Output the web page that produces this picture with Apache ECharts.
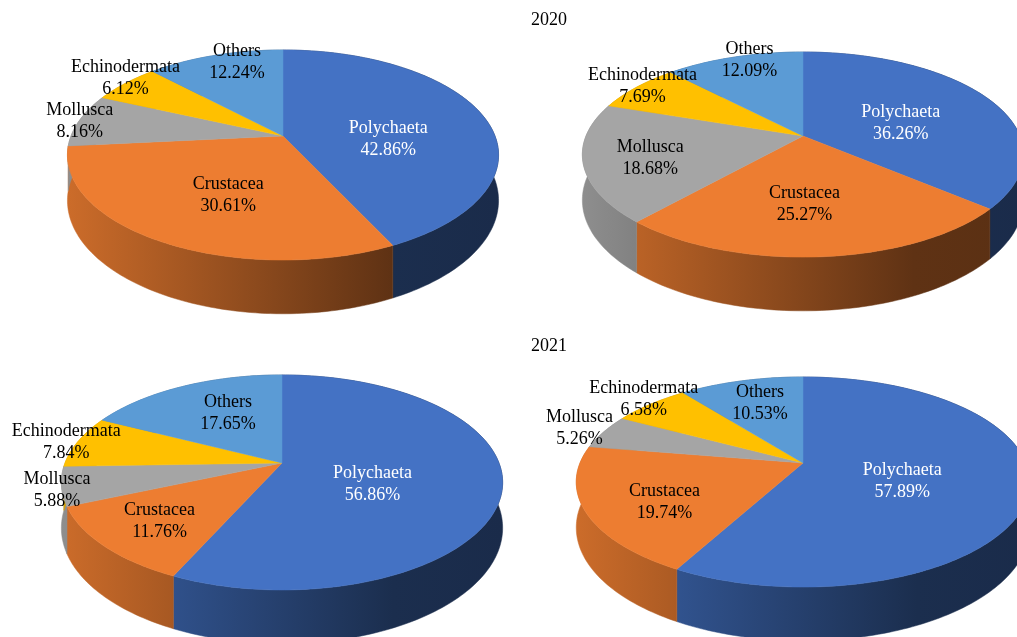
<!DOCTYPE html>
<html>
<head>
<meta charset="utf-8">
<script src="https://cdn.jsdelivr.net/npm/echarts@6/dist/echarts.min.js"></script>
<style>
    html, body { margin: 0; padding: 0; background: #fff; }
    #container { width: 1017px; height: 637px; }
</style>
</head>
<body>
<div id="container"></div>
<script type="text/javascript">
    // data
    var categories = ['Polychaeta', 'Crustacea', 'Mollusca', 'Echinodermata', 'Others'];
    var years = ['2020', '2021'];
    var site1_2020 = [42.86, 30.61, 8.16, 6.12, 12.24];
    var site2_2020 = [36.26, 25.27, 18.68, 7.69, 12.09];
    var site1_2021 = [56.86, 11.76, 5.88, 7.84, 17.65];
    var site2_2021 = [57.89, 19.74, 5.26, 6.58, 10.53];

    var colors = ['#4472C4', '#ED7D31', '#A5A5A5', '#FFC000', '#5B9BD5'];

    // layout of the four pies (centre, radius, squash) and label distance from centre [x, y]
    var pies = [
        {values: site1_2020, cx: 283, cy: 136, R: 212, Rsy: 101.6,
            labelR: [[0.52, 0.23], [0.485, 0.53], [1.0, 1.46], [1.0, 1.27], [0.64, 1.01]]},
        {values: site2_2020, cx: 803, cy: 136, R: 217, Rsy: 99.2,
            labelR: [[0.515, 0.515], [0.1, 0.55], [0.705, 0.56], [0.96, 1.21], [0.75, 1.08]]},
        {values: site1_2021, cx: 282, cy: 463, R: 217, Rsy: 104,
            labelR: [[0.42, 0.57], [0.715, 0.64], [1.02, 0.82], [1.06, 1.36], [0.51, 0.73]]},
        {values: site2_2021, cx: 803, cy: 463, R: 223, Rsy: 101.6,
            labelR: [[0.45, 0.42], [0.655, 0.66], [1.13, 1.42], [1.05, 1.26], [0.66, 0.80]]}
    ];
    var K = 0.181;   // perspective
    var H = 44;      // thickness

    var dom = document.getElementById('container');
    var myChart = echarts.init(dom);

    function angles(p, i) {
        var vals = pies[p].values;
        var total = 0, before = 0;
        vals.forEach(function (v, j) {
            total += v;
            if (j < i) before += v;
        });
        return [before / total * Math.PI * 2, (before + vals[i]) / total * Math.PI * 2];
    }

    function project(pie, theta, r) {
        var u = Math.sin(theta) * r, v = -Math.cos(theta) * r;
        var f = 1 / (1 - K * v);
        return {x: pie.cx + pie.R * u * f, y: pie.cy + pie.Rsy * v * f, f: f};
    }

    function shade(hex, k) {
        var n = parseInt(hex.slice(1), 16);
        var r = Math.round(((n >> 16) & 255) * k),
            g = Math.round(((n >> 8) & 255) * k),
            b = Math.round((n & 255) * k);
        return 'rgb(' + r + ',' + g + ',' + b + ')';
    }

    function arc(pie, a1, a2, drop) {
        var pts = [];
        var n = Math.max(4, Math.ceil((a2 - a1) / 0.02));
        for (var s = 0; s <= n; s++) {
            var t = a1 + (a2 - a1) * s / n;
            var q = project(pie, t, 1);
            pts.push([q.x, q.y + (drop ? H * q.f : 0)]);
        }
        return pts;
    }

    function renderWall(params, api) {
        var p = api.value(0), i = api.value(1);
        var pie = pies[p];
        var a = angles(p, i);
        var pts = arc(pie, a[0], a[1], false).concat(arc(pie, a[0], a[1], true).reverse());
        var w = pie.R * 1.02;
        var grad = {
            type: 'linear', x: pie.cx - w, y: 0, x2: pie.cx + w, y2: 0, global: true,
            colorStops: [
                {offset: 0, color: shade(colors[i], 0.86)},
                {offset: 0.75, color: shade(colors[i], 0.4)},
                {offset: 1, color: shade(colors[i], 0.38)}
            ]
        };
        return {
            type: 'polygon',
            shape: {points: pts},
            style: {fill: grad, stroke: grad, lineWidth: 0.5}
        };
    }

    function renderTop(params, api) {
        var p = api.value(0), i = api.value(1);
        var pie = pies[p];
        var a = angles(p, i);
        var pts = [[pie.cx, pie.cy]].concat(arc(pie, a[0], a[1], false));
        return {
            type: 'polygon',
            shape: {points: pts},
            style: {fill: colors[i], stroke: colors[i], lineWidth: 0.5}
        };
    }

    function renderLabel(params, api) {
        var p = api.value(0), i = api.value(1);
        var pie = pies[p];
        var a = angles(p, i);
        var mid = (a[0] + a[1]) / 2;
        var qx = project(pie, mid, pie.labelR[i][0]);
        var qy = project(pie, mid, pie.labelR[i][1]);
        return {
            type: 'text',
            x: qx.x,
            y: qy.y + 8,
            style: {
                text: categories[i] + '\n' + pie.values[i].toFixed(2) + '%',
                fill: i === 0 ? '#ffffff' : '#000000',
                font: '18px "Liberation Serif"',
                lineHeight: 22,
                align: 'center',
                verticalAlign: 'middle'
            }
        };
    }

    var items = [];
    pies.forEach(function (pie, p) {
        pie.values.forEach(function (v, i) {
            items.push([p, i]);
        });
    });

    var option = {
        backgroundColor: '#ffffff',
        animation: false,
        title: [
            {text: years[0], left: 531, top: 11, padding: 0,
                textStyle: {fontFamily: 'Liberation Serif', fontSize: 18, fontWeight: 'normal', color: '#000'}},
            {text: years[1], left: 531, top: 337, padding: 0,
                textStyle: {fontFamily: 'Liberation Serif', fontSize: 18, fontWeight: 'normal', color: '#000'}}
        ],
        series: [
            {type: 'custom', coordinateSystem: 'none', renderItem: renderWall, data: items, z: 1, silent: true},
            {type: 'custom', coordinateSystem: 'none', renderItem: renderTop, data: items, z: 2, silent: true},
            {type: 'custom', coordinateSystem: 'none', renderItem: renderLabel, data: items, z: 3, silent: true}
        ]
    };

    myChart.setOption(option);
</script>
</body>
</html>
